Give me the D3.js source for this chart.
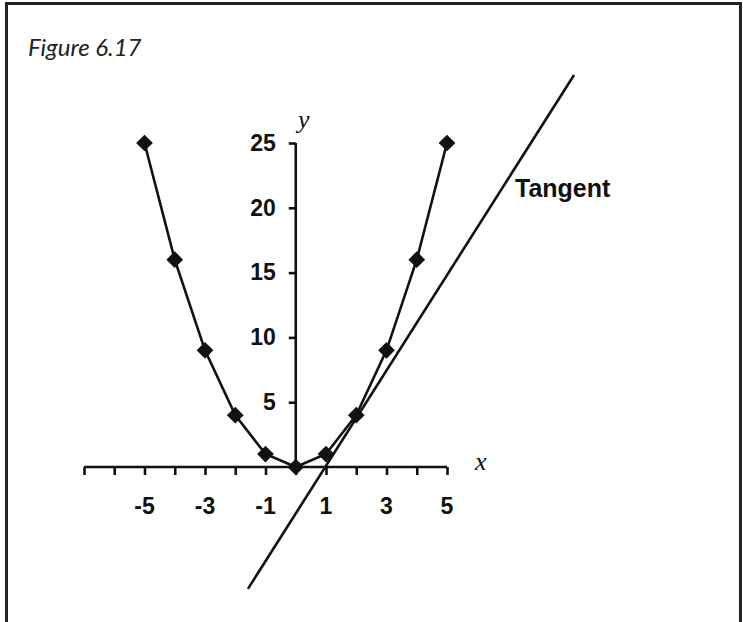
<!DOCTYPE html>
<html>
<head>
<meta charset="utf-8">
<script src="https://cdn.jsdelivr.net/npm/d3@7"></script>
<style>
  html, body { margin: 0; padding: 0; background: #fff; }
  svg { display: block; }
</style>
</head>
<body>
<script>
// y = x^2 sampled at the integers, with the tangent drawn at x = 2
const curveX = [-5, -4, -3, -2, -1, 0, 1, 2, 3, 4, 5];
const curveY = [25, 16, 9, 4, 1, 0, 1, 4, 9, 16, 25];
const tangentX = [-1.58, 9.2];
const tangentY = [-9.4, 30.25];
const xTicks = [-7, -6, -5, -4, -3, -2, -1, 0, 1, 2, 3, 4, 5];
const xTickLabels = [-5, -3, -1, 1, 3, 5];
const yTicks = [5, 10, 15, 20, 25];
const titleText = "Figure 6.17";
const tangentLabel = "Tangent";

const W = 743, H = 622;
const svg = d3.select("body").append("svg").attr("width", W).attr("height", H);

// frame: open at the bottom
svg.append("path")
  .attr("d", `M6.5,${H} V3.5 H740.5 V${H}`)
  .attr("fill", "none").attr("stroke", "#222").attr("stroke-width", 3);

svg.append("text")
  .attr("x", 28).attr("y", 56)
  .attr("font-family", "Lato, 'Open Sans', sans-serif")
  .attr("font-style", "italic")
  .attr("font-size", 24)
  .attr("fill", "#222")
  .text(titleText);

const x = d3.scaleLinear().domain([-7, 5]).range([84, 447]);
const y = d3.scaleLinear().domain([0, 25]).range([467, 143]);

const ink = "#111";
const lw = 2.6;
const labelFont = "'Liberation Sans', Arial, sans-serif";

// x axis: ticks below the line, labels on odd values only
const gx = svg.append("g").attr("transform", `translate(0,${y(0)})`)
  .call(d3.axisBottom(x).tickValues(xTicks).tickSize(8).tickSizeOuter(0).tickFormat(""));
gx.select(".domain").attr("stroke", ink).attr("stroke-width", lw).attr("d", `M${x(-7)},0H${x(5)}`);
gx.selectAll(".tick line").attr("stroke", ink).attr("stroke-width", lw);

svg.append("g").selectAll("text").data(xTickLabels).join("text")
  .attr("x", d => x(d)).attr("y", 514)
  .attr("text-anchor", "middle")
  .attr("font-family", labelFont)
  .attr("font-weight", "bold").attr("font-size", 23).attr("fill", ink)
  .text(d => d);

// y axis through x = 0
const gy = svg.append("g").attr("transform", `translate(${x(0)},0)`)
  .call(d3.axisLeft(y).tickValues(yTicks).tickSize(7).tickSizeOuter(0).tickPadding(13));
gy.attr("font-size", 23).attr("font-family", labelFont);
gy.select(".domain").attr("stroke", ink).attr("stroke-width", lw).attr("d", `M0,${y(0)}V${y(25)}`);
gy.selectAll(".tick line").attr("stroke", ink).attr("stroke-width", lw);
gy.selectAll(".tick text")
  .attr("font-family", labelFont)
  .attr("font-weight", "bold").attr("font-size", 23).attr("fill", ink);

// axis names
svg.append("text").attr("x", 298).attr("y", 128)
  .attr("font-family", "'Liberation Serif', 'Times New Roman', serif")
  .attr("font-style", "italic").attr("font-size", 26).attr("fill", ink).text("y");
svg.append("text").attr("x", 475).attr("y", 470)
  .attr("font-family", "'Liberation Serif', 'Times New Roman', serif")
  .attr("font-style", "italic").attr("font-size", 26).attr("fill", ink).text("x");

// tangent line
const tangentPts = tangentX.map((v, i) => [v, tangentY[i]]);
svg.append("path")
  .datum(tangentPts)
  .attr("d", d3.line().x(d => x(d[0])).y(d => y(d[1])))
  .attr("fill", "none").attr("stroke", ink).attr("stroke-width", lw);

svg.append("text").attr("x", 515).attr("y", 197)
  .attr("font-family", labelFont)
  .attr("font-weight", "bold").attr("font-size", 25).attr("fill", ink)
  .text(tangentLabel);

// the parabola: segments and diamond markers
const curvePts = curveX.map((v, i) => [v, curveY[i]]);
svg.append("path")
  .datum(curvePts)
  .attr("d", d3.line().x(d => x(d[0])).y(d => y(d[1])))
  .attr("fill", "none").attr("stroke", ink).attr("stroke-width", lw);

const diamond = d3.symbol().type(d3.symbolSquare).size(140);
svg.append("g").selectAll("path").data(curvePts).join("path")
  .attr("transform", d => `translate(${x(d[0])},${y(d[1])}) rotate(45)`)
  .attr("d", diamond)
  .attr("fill", ink);
</script>
</body>
</html>
